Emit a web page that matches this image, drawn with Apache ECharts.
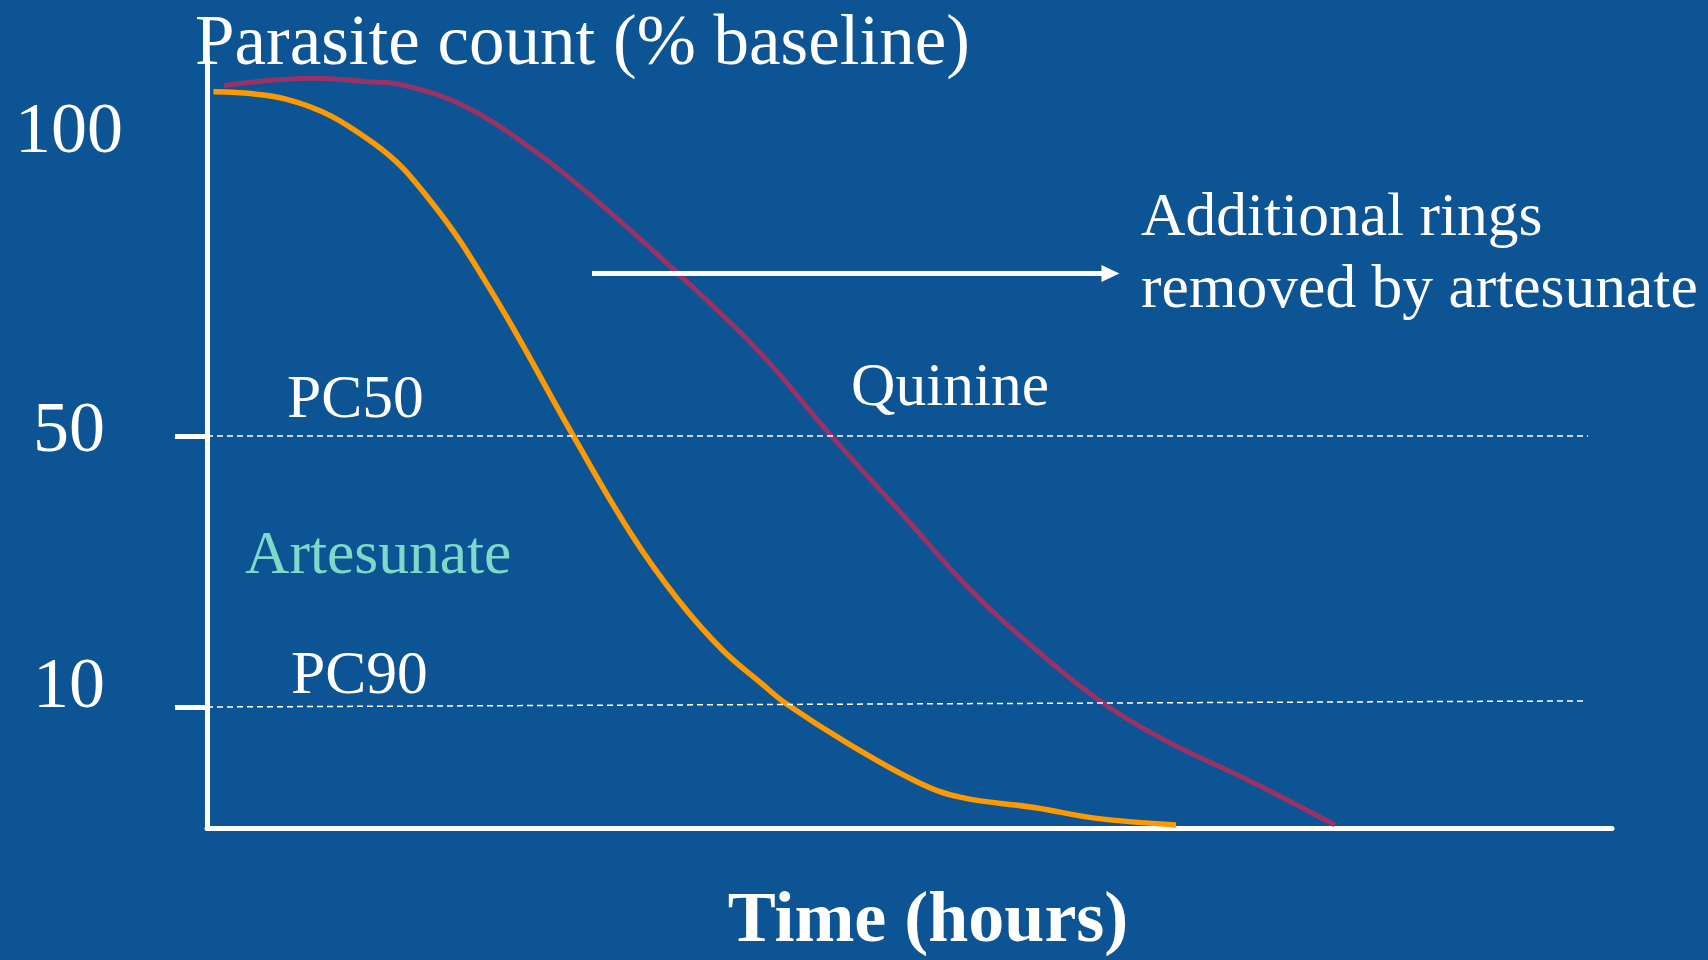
<!DOCTYPE html>
<html>
<head>
<meta charset="utf-8">
<script src="https://cdn.jsdelivr.net/npm/echarts@6/dist/echarts.min.js"></script>
<style>
  html, body { margin: 0; padding: 0; background: #0D5494; }
  #chart { width: 1708px; height: 960px; }
</style>
</head>
<body>
<div id="chart"></div>
<script>
// ---- data (schematic) ----
const artesunateTime  = [0.46, 5.69, 11.74, 15.87, 20.32, 26.05, 30.2, 33.5, 36.6, 39.5, 41.28, 45.55, 50.6, 53.6, 59.1, 63.2, 68.97];
const artesunateCount = [100.8, 99.7, 93.4, 84.8, 71.1, 50.1, 35.5, 25.9, 18.6, 13.4, 10.4, 4.7, -1.1, -3.3, -4.9, -6.4, -7.4];
const quinineTime  = [1.2, 7.62, 11.42, 13.95, 18.41, 23.49, 28.26, 33.51, 39.36, 44.48, 49.6, 54.2, 58.93, 63.7, 68.19, 74.4, 80.28];
const quinineCount = [101.7, 102.8, 102.3, 101.8, 98.6, 91.8, 83.8, 74.0, 62.3, 49.9, 38.2, 27.6, 18.6, 10.7, 5.1, -1.1, -7.4];
const tickValues = [50, 10];
const tickLabels = ['100', '50', '10'];
const tickLabelAt = [95.5, 51.3, 13.6];
const pc50 = 50;
const pc90 = [10, 10.9];
const arrowFrom = [27.4, 74.0];
const arrowTo = [64.3, 74.0];

const FONT = '"Liberation Serif", "Times New Roman", serif';

const chart = echarts.init(document.getElementById('chart'), null, { renderer: 'svg' });

function txt(text, x, y, size, color, opts) {
  opts = opts || {};
  return {
    type: 'text',
    style: {
      text: text, x: x, y: y,
      font: (opts.bold ? 'bold ' : '') + size + 'px ' + FONT,
      fill: color,
      align: opts.align || 'left', textAlign: opts.align || 'left',
      verticalAlign: 'middle', textVerticalAlign: 'middle'
    }
  };
}

const option = {
  backgroundColor: '#0D5494',
  animation: false,
  grid: { left: 207, right: 96, top: 58, bottom: 132, containLabel: false },
  xAxis: {
    type: 'value', min: 0, max: 100,
    axisLine: { show: true, onZero: false, lineStyle: { color: '#ffffff', width: 5 } },
    axisTick: { show: false }, axisLabel: { show: false }, splitLine: { show: false }
  },
  yAxis: {
    type: 'value', min: -7.86, max: 105.8,
    axisLine: { show: true, onZero: false, lineStyle: { color: '#ffffff', width: 5 } },
    axisTick: { show: true, customValues: tickValues, length: 32, inside: false,
      lineStyle: { color: '#ffffff', width: 5 } },
    axisLabel: {
      show: true, customValues: tickLabelAt,
      formatter: function (v) {
        let best = 0;
        tickLabelAt.forEach(function (p, i) { if (Math.abs(p - v) < Math.abs(tickLabelAt[best] - v)) best = i; });
        return tickLabels[best];
      },
      color: '#ffffff', fontFamily: FONT, fontSize: 72, align: 'center', margin: 138
    },
    splitLine: { show: false }
  },
  series: [
    {
      name: 'Artesunate', type: 'line', smooth: 0.4, symbol: 'none', clip: false,
      lineStyle: { color: '#FF9900', width: 5.5 },
      data: artesunateTime.map(function (t, i) { return [t, artesunateCount[i]]; }),
      z: 3
    },
    {
      name: 'Quinine', type: 'line', smooth: 0.4, symbol: 'none', clip: false,
      lineStyle: { color: '#993366', width: 5 },
      data: quinineTime.map(function (t, i) { return [t, quinineCount[i]]; }),
      z: 2,
      markLine: {
        silent: true, animation: false,
        label: { show: false },
        symbol: ['none', 'none'],
        data: [
          [{ coord: [0, pc50], lineStyle: { color: '#ffffff', width: 1.5, type: [6, 4] } }, { coord: [98.3, pc50] }],
          [{ coord: [0, pc90[0]], lineStyle: { color: '#ffffff', width: 1.5, type: [6, 4] } }, { coord: [98.2, pc90[1]] }],
          [{ coord: arrowFrom, symbol: 'none', lineStyle: { color: '#ffffff', width: 5, type: 'solid' } },
           { coord: arrowTo, symbol: 'triangle', symbolSize: [17, 18] }]
        ]
      }
    }
  ],
  graphic: [
    txt('Parasite count (% baseline)', 195, 40, 71, '#ffffff'),
    txt('Time (hours)', 928, 917, 72, '#ffffff', { bold: true, align: 'center' }),
    txt('Additional rings', 1141, 214, 61.5, '#ffffff'),
    txt('removed by artesunate', 1141, 286, 61.5, '#ffffff'),
    txt('Quinine', 851, 384, 61.5, '#ffffff'),
    txt('PC50', 287, 396, 61.5, '#ffffff'),
    txt('PC90', 291, 672, 61.5, '#ffffff'),
    txt('Artesunate', 245, 552, 61.5, '#7FD9C8')
  ]
};
chart.setOption(option);
</script>
</body>
</html>
